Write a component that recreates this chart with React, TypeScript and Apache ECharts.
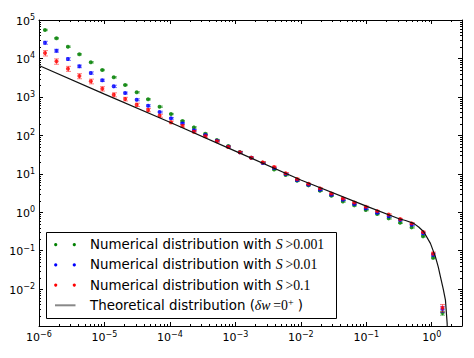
import React, { useEffect, useRef } from 'react';
import * as echarts from 'echarts';

// ---- data ----
const xVals = [
  1.236e-6, 1.849e-6, 2.767e-6, 4.14e-6, 6.194e-6, 9.268e-6, 1.387e-5, 2.075e-5, 3.105e-5, 4.645e-5,
  6.95e-5, 1.04e-4, 1.556e-4, 2.328e-4, 3.483e-4, 5.212e-4, 7.798e-4, 1.167e-3, 1.746e-3, 2.612e-3,
  3.908e-3, 5.848e-3, 8.75e-3, 1.309e-2, 1.959e-2, 2.931e-2, 4.385e-2, 6.561e-2, 9.817e-2, 0.1469,
  0.2198, 0.3289, 0.492, 0.7362, 1.05, 1.46,
];
const greenVals = [
  55000, 33400, 20200, 12800, 7930, 5000, 3230, 2040, 1315, 865, 555,
  358, 235, 161, 110, 75.3, 52.6, 36.7, 26.1, 19.4, 13.0,
  9.27, 6.58, 5.0, 3.61, 2.68, 1.91, 1.51, 1.14, 0.895, 0.692, 0.532,
  0.404, 0.236, 0.0653, 0.00238,
];
const blueVals = [
  25650, 15900, 9660, 6240, 4180, 2700, 1880, 1260, 843, 589, 404,
  277, 205, 135, 102, 72.3, 50.5, 36.1, 26.1, 19.0, 14.1,
  9.84, 6.84, 5.18, 3.84, 2.84, 2.11, 1.63, 1.26, 0.968, 0.785, 0.628,
  0.471, 0.282, 0.0782, 0.00302,
];
const redVals = [
  13800, 8410, 5410, 3490, 2540, 1630, 1140, 879, 625, 455, 324,
  218, 175, 124, 94.2, 69.8, 49.5, 36.1, 26.1, 19.8, 15.0,
  10.3, 7.29, 5.5, 4.18, 3.09, 2.29, 1.8, 1.39, 1.07, 0.869, 0.664,
  0.513, 0.305, 0.0849, 0.00327,
];
// relative errors
const greenErr = [
  0.04, 0.04, 0.04, 0.04, 0.04, 0.04, 0.04, 0.04, 0.04, 0.04, 0.04,
  0.04, 0.04, 0.04, 0.04, 0.04, 0.04, 0.04, 0.04, 0.04, 0.04,
  0.04, 0.04, 0.04, 0.04, 0.04, 0.04, 0.04, 0.04, 0.04, 0.04, 0.04,
  0.04, 0.04, 0.06, 0.12,
];
const blueErr = [
  0.09, 0.09, 0.08, 0.08, 0.07, 0.07, 0.07, 0.06, 0.06, 0.06, 0.05,
  0.05, 0.05, 0.05, 0.04, 0.04, 0.04, 0.04, 0.04, 0.04, 0.04,
  0.04, 0.04, 0.04, 0.04, 0.04, 0.04, 0.04, 0.04, 0.04, 0.04, 0.04,
  0.04, 0.05, 0.07, 0.18,
];
const redErr = [
  0.16, 0.16, 0.15, 0.15, 0.14, 0.13, 0.12, 0.11, 0.1, 0.1, 0.09,
  0.08, 0.08, 0.07, 0.07, 0.06, 0.06, 0.06, 0.05, 0.05, 0.05,
  0.05, 0.05, 0.04, 0.04, 0.04, 0.04, 0.04, 0.04, 0.04, 0.04, 0.04,
  0.04, 0.05, 0.08, 0.22,
];
const theoryX = [1e-6, 1e-5, 1e-4, 1e-3, 1e-2, 0.1, 0.316, 0.398, 0.531, 0.631, 0.755, 0.955, 1.14, 1.26, 1.36, 1.5, 1.62, 1.72, 1.75];
const theoryY = [6550, 1180, 219, 38.9, 6.92, 1.445, 0.676, 0.61, 0.513, 0.412, 0.31, 0.155, 0.0692, 0.0372, 0.0209, 0.01, 0.00518, 0.00129, 0.0004];

const xMin = 1e-6;
const xMax = 2.9;
const yMin = 1.1e-3;
const yMax = 1e5;
const xTickExps = [-6, -5, -4, -3, -2, -1, 0];
const yTickExps = [-2, -1, 0, 1, 2, 3, 4, 5];

const seriesColors = ['#008000', '#0000ff', '#ff0000'];
const legendLabels = [
  { text: 'Numerical distribution with ', math: 'S', rest: '>0.001' },
  { text: 'Numerical distribution with ', math: 'S', rest: '>0.01' },
  { text: 'Numerical distribution with ', math: 'S', rest: '>0.1' },
];

const SANS = 'DejaVu Sans';
const SERIF = 'Liberation Serif';

function expLabel(v: number, exps: number[]) {
  const e = Math.round(Math.log10(v));
  if (!exps.includes(e) || Math.abs(Math.log10(v) - e) > 1e-6) return '';
  const s = e < 0 ? '\u2212' + String(-e) : String(e);
  return '{b|10}{s|' + s + '}';
}

const labelRich = {
  b: { fontFamily: SANS, fontSize: 11, color: '#000', verticalAlign: 'bottom', lineHeight: 13 },
  s: { fontFamily: SANS, fontSize: 8, color: '#000', verticalAlign: 'top', lineHeight: 9 },
};

function minorList(lo: number, hi: number) {
  const out: number[] = [];
  for (let e = Math.floor(Math.log10(lo)); e <= Math.ceil(Math.log10(hi)); e++) {
    for (let m = 2; m <= 9; m++) {
      const v = m * Math.pow(10, e);
      if (v > lo && v < hi) out.push(v);
    }
  }
  return out;
}

function errData(xs: number[], ys: number[], errs: number[]) {
  return xs.map((x, i) => [x, ys[i] * (1 - errs[i]), ys[i] * (1 + errs[i])]);
}

function errSeries(name: string, color: string, data: number[][], z: number) {
  return {
    type: 'custom',
    name,
    xAxisIndex: 0,
    yAxisIndex: 0,
    z,
    silent: true,
    encode: { x: 0, y: [1, 2] },
    data,
    renderItem: (params: any, api: any) => {
      const lo = api.coord([api.value(0), api.value(1)]);
      const hi = api.coord([api.value(0), api.value(2)]);
      const x = Math.round(lo[0]) + 0.5;
      const w = 2.5;
      const st = { stroke: color, lineWidth: 1, opacity: 0.5 };
      return {
        type: 'group',
        children: [
          { type: 'line', shape: { x1: x, y1: lo[1], x2: x, y2: hi[1] }, style: st },
          { type: 'line', shape: { x1: x - w, y1: lo[1], x2: x + w, y2: lo[1] }, style: st },
          { type: 'line', shape: { x1: x - w, y1: hi[1], x2: x + w, y2: hi[1] }, style: st },
        ],
      };
    },
  };
}

export default function App() {
  const ref = useRef<HTMLDivElement>(null);
  useEffect(() => {
    if (!ref.current) return;
    const chart = echarts.init(ref.current, undefined, { renderer: 'svg' });

    const xMinor = minorList(xMin, xMax);
    const yMinor = minorList(yMin, yMax);

    const axisCommon = {
      type: 'log',
      logBase: 10,
      axisLine: { show: true, lineStyle: { color: '#000', width: 1 } },
      axisTick: { show: true, inside: true, length: 4, lineStyle: { color: '#000', width: 1 } },
      splitLine: { show: false },
      minorTick: { show: false },
    };

    const rowY = [244.7, 264.9, 285.1, 305.3];
    const legendChildren: any[] = [
      {
        type: 'rect',
        shape: { x: 46.5, y: 232.5, width: 290, height: 86 },
        style: { fill: '#fff', stroke: '#000', lineWidth: 1 },
      },
    ];
    const textRich = {
      a: { fontFamily: SANS, fontSize: 13.4, fill: '#000' },
      m: { fontFamily: SERIF, fontStyle: 'italic', fontSize: 13.8, fill: '#000' },
      n: { fontFamily: SERIF, fontSize: 13.8, fill: '#000' },
      s: { fontFamily: SERIF, fontSize: 10, fill: '#000', verticalAlign: 'top', padding: [0, 0, 6, 0] },
    };
    legendLabels.forEach((lab, i) => {
      [55.7, 74.3].forEach((cx) => {
        legendChildren.push({
          type: 'circle',
          shape: { cx, cy: rowY[i], r: 1.6 },
          style: { fill: seriesColors[i] },
        });
      });
      legendChildren.push({
        type: 'text',
        x: 90,
        y: rowY[i],
        style: {
          text: '{a|' + lab.text + '}{m|' + lab.math + '}{n|\u2009' + lab.rest + '}',
          verticalAlign: 'middle',
          rich: textRich,
        },
      });
    });
    legendChildren.push({
      type: 'line',
      shape: { x1: 55, y1: rowY[3], x2: 75.5, y2: rowY[3] },
      style: { stroke: '#888', lineWidth: 2 },
    });
    legendChildren.push({
      type: 'text',
      x: 90,
      y: rowY[3],
      style: {
        text: '{a|Theoretical distribution (}{m|\u03b4w}{n|\u2009=0}{s|+}{a| )}',
        verticalAlign: 'middle',
        rich: textRich,
      },
    });

    const option: any = {
      animation: false,
      backgroundColor: '#fff',
      grid: { left: 39, top: 20, width: 423, height: 306, containLabel: false },
      xAxis: [
        {
          ...axisCommon,
          position: 'bottom',
          min: xMin,
          max: xMax,
          splitNumber: 10,
          axisLabel: {
            margin: 4,
            showMaxLabel: false,
            formatter: (v: number) => expLabel(v, xTickExps),
            rich: labelRich,
          },
        },
        {
          ...axisCommon,
          position: 'top',
          min: xMin,
          max: xMax,
          splitNumber: 10,
          axisLabel: { show: false },
        },
      ],
      yAxis: [
        {
          ...axisCommon,
          position: 'left',
          min: yMin,
          max: yMax,
          splitNumber: 10,
          axisLabel: {
            margin: 4,
            showMinLabel: false,
            formatter: (v: number) => expLabel(v, yTickExps),
            rich: labelRich,
          },
        },
        {
          ...axisCommon,
          position: 'right',
          min: yMin,
          max: yMax,
          splitNumber: 10,
          axisLabel: { show: false },
        },
      ],
      series: [
        {
          type: 'custom',
          name: 'xminor',
          silent: true,
          z: 1,
          encode: { x: 0, y: 1 },
          data: xMinor.map((v) => [v, 1]),
          renderItem: (params: any, api: any) => {
            const cs = params.coordSys;
            const px = Math.round(api.coord([api.value(0), 1])[0]) + 0.5;
            const b = cs.y + cs.height;
            const t = cs.y;
            const st = { stroke: '#000', lineWidth: 1 };
            return {
              type: 'group',
              children: [
                { type: 'line', shape: { x1: px, y1: b, x2: px, y2: b - 2 }, style: st },
                { type: 'line', shape: { x1: px, y1: t, x2: px, y2: t + 2 }, style: st },
              ],
            };
          },
        },
        {
          type: 'custom',
          name: 'yminor',
          silent: true,
          z: 1,
          encode: { x: 0, y: 1 },
          data: yMinor.map((v) => [1e-3, v]),
          renderItem: (params: any, api: any) => {
            const cs = params.coordSys;
            const py = Math.round(api.coord([1e-3, api.value(1)])[1]) + 0.5;
            const l = cs.x;
            const r = cs.x + cs.width;
            const st = { stroke: '#000', lineWidth: 1 };
            return {
              type: 'group',
              children: [
                { type: 'line', shape: { x1: l, y1: py, x2: l + 2, y2: py }, style: st },
                { type: 'line', shape: { x1: r, y1: py, x2: r - 2, y2: py }, style: st },
              ],
            };
          },
        },
        errSeries('errG', seriesColors[0], errData(xVals, greenVals, greenErr), 3),
        {
          type: 'scatter',
          name: 'S>0.001',
          z: 4,
          symbol: 'circle',
          symbolSize: 4,
          itemStyle: { color: seriesColors[0] },
          data: xVals.map((x, i) => [x, greenVals[i]]),
        },
        errSeries('errB', seriesColors[1], errData(xVals, blueVals, blueErr), 5),
        {
          type: 'scatter',
          name: 'S>0.01',
          z: 6,
          symbol: 'circle',
          symbolSize: 4,
          itemStyle: { color: seriesColors[1] },
          data: xVals.map((x, i) => [x, blueVals[i]]),
        },
        errSeries('errR', seriesColors[2], errData(xVals, redVals, redErr), 7),
        {
          type: 'scatter',
          name: 'S>0.1',
          z: 8,
          symbol: 'circle',
          symbolSize: 4,
          itemStyle: { color: seriesColors[2] },
          data: xVals.map((x, i) => [x, redVals[i]]),
        },
        {
          type: 'line',
          name: 'Theoretical',
          z: 9,
          showSymbol: false,
          clip: true,
          lineStyle: { color: '#111', width: 1.2 },
          data: theoryX.map((x, i) => [x, theoryY[i]]),
        },
      ],
      graphic: [{ type: 'group', z: 100, children: legendChildren }],
    };
    chart.setOption(option);
    return () => chart.dispose();
  }, []);
  return <div ref={ref} style={{ position: 'fixed', left: 0, top: 0, width: 474, height: 358, background: '#fff' }} />;
}
